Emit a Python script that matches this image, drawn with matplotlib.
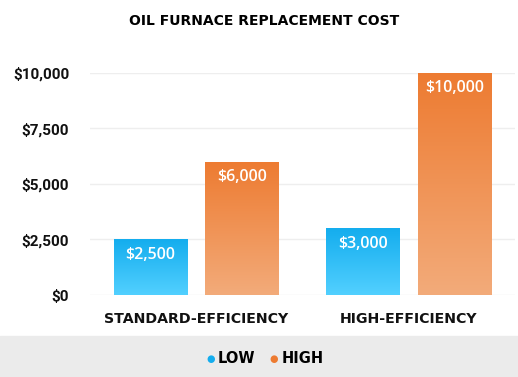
import numpy as np
import matplotlib.pyplot as plt
from matplotlib.colors import LinearSegmentedColormap
from matplotlib.patches import Rectangle

categories = ['STANDARD-EFFICIENCY', 'HIGH-EFFICIENCY']
low = [2500, 3000]
high = [6000, 10000]
series_names = ['LOW', 'HIGH']
yticks = [0, 2500, 5000, 7500, 10000]

blue_cm = LinearSegmentedColormap.from_list('b', ['#52d0ff', '#14adee'])
orange_cm = LinearSegmentedColormap.from_list('o', ['#f3ab7a', '#ed7b31'])

fig = plt.figure(figsize=(5.18, 3.77), dpi=100)
ax = fig.add_axes([0.1737, 0.2175, 0.8205, 0.589])

x = np.arange(len(categories))
w = 0.344
grad = np.linspace(0, 1, 256).reshape(-1, 1)


def grad_bars(xs, vals, cmap):
    bars = ax.bar(xs, vals, width=w, color='none', zorder=3)
    for b in bars:
        x0, y0 = b.get_x(), b.get_y()
        h = b.get_height()
        im = ax.imshow(grad, cmap=cmap, aspect='auto', origin='lower',
                       extent=[x0, x0 + w, y0, y0 + h], zorder=2)
        im.set_clip_path(b)
        ax.text(x0 + w / 2, h - 700, '${:,}'.format(h), ha='center',
                va='center', color='white', fontsize=11.5, fontweight='semibold',
                family='Open Sans', zorder=4)
    return bars


grad_bars(x - 0.215, low, blue_cm)
grad_bars(x + 0.215, high, orange_cm)

ax.set_xlim(-0.5, 1.5)
ax.set_ylim(0, 10000)
ax.set_yticks(yticks)
ax.set_yticklabels(['${:,}'.format(v) for v in yticks], fontsize=11,
                   fontweight='bold', family='Roboto', color='#111111')
ax.set_xticks(x)
ax.set_xticklabels(categories, fontsize=10.2, fontweight='bold',
                   family='DejaVu Sans', color='#111111')
ax.tick_params(length=0)
ax.tick_params(axis='y', pad=15)
ax.tick_params(axis='x', pad=12)
ax.grid(axis='y', color='#eeeeee', linewidth=1, zorder=0)
ax.set_axisbelow(True)
for s in ax.spines.values():
    s.set_visible(False)

fig.text(0.51, 0.944, 'OIL FURNACE REPLACEMENT COST', ha='center', va='center',
         fontsize=10, fontweight='bold', family='DejaVu Sans')

# legend band
fig.patches.append(Rectangle((0, 0), 1, 41 / 377, transform=fig.transFigure,
                             color='#ebebeb', zorder=0))
fig.text(0.407, 0.048, '\u25cf', color='#14adee', fontsize=7, ha='center', va='center')
fig.text(0.421, 0.048, series_names[0], fontsize=10.5, fontweight='bold',
         family='DejaVu Sans', va='center')
fig.text(0.529, 0.048, '\u25cf', color='#ed7b31', fontsize=7, ha='center', va='center')
fig.text(0.543, 0.048, series_names[1], fontsize=10.5, fontweight='bold',
         family='DejaVu Sans', va='center')

fig.savefig('out.png', dpi=100)
